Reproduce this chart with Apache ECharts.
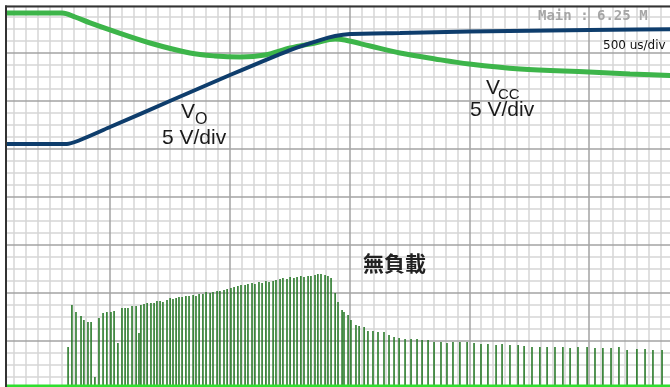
<!DOCTYPE html>
<html>
<head>
<meta charset="utf-8">
<script src="https://cdn.jsdelivr.net/npm/echarts@6/dist/echarts.min.js"></script>
<style>
  html, body { margin: 0; padding: 0; background: #fff; }
  #chart { width: 670px; height: 387px; }
</style>
</head>
<body>
<div id="chart"></div>
<script>
// Start-up capture, no load. Time in µs (500 µs/div), screen level in volts (5 V/div).

// Output voltage trace V_O
const voTime  = [0, 320, 500, 750, 1001, 1252, 1377, 1440, 1502, 1711, 2000, 2500, 2900];
const voLevel = [25.52, 25.52, 27.29, 30.0, 32.71, 35.31, 36.35, 36.77, 36.98, 37.08, 37.24, 37.4, 37.5];

// Supply voltage trace V_CC
const vccTime  = [0, 300, 354, 417, 500, 667, 834, 938, 1043, 1147, 1252, 1356, 1440, 1481, 1586, 1711, 1857, 2000, 2212, 2500, 2671, 2900];
const vccLevel = [39.17, 39.17, 38.75, 38.13, 37.4, 36.04, 35.0, 34.69, 34.58, 34.79, 35.52, 36.04, 36.46, 36.35, 35.73, 35.0, 34.38, 33.85, 33.33, 33.02, 32.81, 32.6];

// Switching pulses: pulse time and peak level
const pulseTime = [
  325, 341, 358, 379, 391, 408, 421, 437, 454, 471,
  487, 504, 517, 533, 550, 563, 575, 592, 609, 621,
  629, 642, 655, 671, 684, 696, 709, 721, 738, 751,
  763, 776, 788, 801, 817, 830, 847, 859, 872, 888,
  901, 918, 930, 947, 959, 976, 989, 1005, 1018, 1034,
  1047, 1064, 1076, 1093, 1105, 1122, 1135, 1151, 1164, 1181,
  1193, 1210, 1222, 1239, 1252, 1268, 1281, 1297, 1310, 1327,
  1339, 1356, 1368, 1381, 1398, 1410, 1423,
  1440, 1452, 1469, 1477, 1494, 1506, 1527, 1540, 1561, 1577,
  1598, 1619, 1644, 1665, 1686, 1707, 1732, 1757, 1782, 1803,
  1828, 1853, 1882, 1907, 1932, 1961, 1991, 2020, 2049, 2078,
  2112, 2137, 2170, 2204, 2229, 2262, 2295, 2325, 2358, 2391,
  2421, 2454, 2492, 2525, 2558, 2592, 2625, 2659, 2700, 2734,
  2767, 2805
];
const pulsePeak = [
  4.38, 8.75, 8.02, 7.6, 7.19, 6.98, 6.98, 1.25, 7.4, 7.92,
  8.02, 8.02, 8.13, 4.79, 8.44, 8.44, 8.44, 8.65, 8.65, 5.83,
  8.75, 8.85, 8.96, 8.96, 8.96, 9.17, 9.17, 9.06, 9.27, 9.48,
  9.38, 9.48, 9.58, 9.58, 9.69, 9.69, 9.79, 9.69, 9.9, 9.9,
  10.1, 10.0, 10.1, 10.21, 10.21, 10.31, 10.42, 10.52, 10.63, 10.73,
  10.83, 10.83, 10.94, 11.04, 10.94, 11.15, 11.04, 11.25, 11.15, 11.25,
  11.35, 11.46, 11.56, 11.46, 11.67, 11.56, 11.67, 11.77, 11.67, 11.77,
  11.77, 11.88, 11.98, 11.98, 11.88, 11.77, 11.56,
  10.0, 9.06, 8.23, 8.02, 7.71, 7.19, 6.67, 6.56, 6.46, 6.04,
  6.04, 5.94, 5.94, 5.63, 5.42, 5.31, 5.21, 5.21, 5.21, 5.1,
  5.1, 4.9, 4.9, 4.79, 4.9, 4.9, 4.9, 4.79, 4.69, 4.69,
  4.58, 4.69, 4.58, 4.58, 4.48, 4.38, 4.38, 4.38, 4.38, 4.38,
  4.27, 4.38, 4.38, 4.27, 4.27, 4.27, 4.38, 4.06, 4.17, 4.17,
  4.06, 4.06
];
const pulseBaseLevel = 0.31;

// Screen extent: 6 horizontal divisions, 8 vertical divisions
const timeMin = 0, timeMax = 3000, timePerDiv = 500;
const levelMin = 0, levelMax = 40, levelPerDiv = 5;

const chart = echarts.init(document.getElementById('chart'), null, { renderer: 'canvas' });

function scopeAxis(min, max, interval, minorSplit, major) {
  return {
    type: 'value', min: min, max: max, interval: interval,
    axisLine: { show: false }, axisTick: { show: false }, axisLabel: { show: false },
    splitLine: { show: major, lineStyle: { color: '#a3a3a3', width: 1.5 } },
    minorTick: { show: false, splitNumber: minorSplit },
    minorSplitLine: { show: !major, lineStyle: { color: '#d6d6d6', width: 1.5 } },
    z: major ? 1 : 0
  };
}

function label(text, x, y, font, fill) {
  return { type: 'text', x: x, y: y, z: 60,
    style: { text: text, fill: fill || '#1a1a1a', font: font, verticalAlign: 'top', align: 'left' } };
}

const option = {
  animation: false,
  backgroundColor: '#ffffff',
  grid: { left: -9.75, top: 5, width: 718.5, height: 384, containLabel: false, outerBoundsMode: 'none' },
  xAxis: [
    scopeAxis(timeMin, timeMax, timePerDiv, 10, false),
    scopeAxis(timeMin, timeMax, timePerDiv, 10, true)
  ],
  yAxis: [
    scopeAxis(levelMin, levelMax, levelPerDiv, 4, false),
    scopeAxis(levelMin, levelMax, levelPerDiv, 4, true)
  ],
  series: [
    {
      type: 'bar', xAxisIndex: 0, yAxisIndex: 0,
      data: pulseTime.map((t, i) => [t, pulsePeak[i]]),
      barWidth: 1.6,
      itemStyle: { color: '#2a7a2a' },
      z: 2
    },
    {
      type: 'line', xAxisIndex: 0, yAxisIndex: 0,
      data: [[timeMin, pulseBaseLevel], [timeMax, pulseBaseLevel]],
      symbol: 'none',
      lineStyle: { color: '#2fe02f', width: 3 },
      z: 3
    },
    {
      type: 'line', xAxisIndex: 0, yAxisIndex: 0,
      data: vccTime.map((t, i) => [t, vccLevel[i]]),
      symbol: 'none', smooth: 0.35,
      lineStyle: { color: '#3db54a', width: 5 },
      z: 4
    },
    {
      type: 'line', xAxisIndex: 0, yAxisIndex: 0,
      data: voTime.map((t, i) => [t, voLevel[i]]),
      symbol: 'none', smooth: 0.15,
      lineStyle: { color: '#0e3d6c', width: 4 },
      z: 5
    }
  ],
  graphic: [
    // white margin and dark frame of the screen
    { type: 'rect', shape: { x: 0, y: 0, width: 5, height: 387 }, style: { fill: '#fff' }, z: 50 },
    { type: 'rect', shape: { x: 0, y: 0, width: 670, height: 5.5 }, style: { fill: '#fff' }, z: 50 },
    { type: 'line', shape: { x1: 6, y1: 5.5, x2: 6, y2: 387 }, style: { stroke: '#333', lineWidth: 2 }, z: 51 },
    { type: 'line', shape: { x1: 5, y1: 6.5, x2: 670, y2: 6.5 }, style: { stroke: '#333', lineWidth: 2 }, z: 51 },
    // readouts
    label('Main : 6.25 M', 538, 9, 'bold 14px "DejaVu Sans Mono"', '#a6a6a6'),
    label('500 us/div', 603, 40, '12px "DejaVu Sans"', '#111'),
    // channel labels
    label('V', 181, 102, '21px "Liberation Sans"'),
    label('O', 195, 112, '16px "Liberation Sans"'),
    label('5 V/div', 162, 128, '21px "Liberation Sans"'),
    label('V', 486, 78, '21px "Liberation Sans"'),
    label('CC', 498, 87, '15px "Liberation Sans"'),
    label('5 V/div', 470, 100, '21px "Liberation Sans"'),
    label('無負載', 363, 253, 'bold 21px "Noto Sans CJK TC"', '#222')
  ]
};

chart.setOption(option);
</script>
</body>
</html>
